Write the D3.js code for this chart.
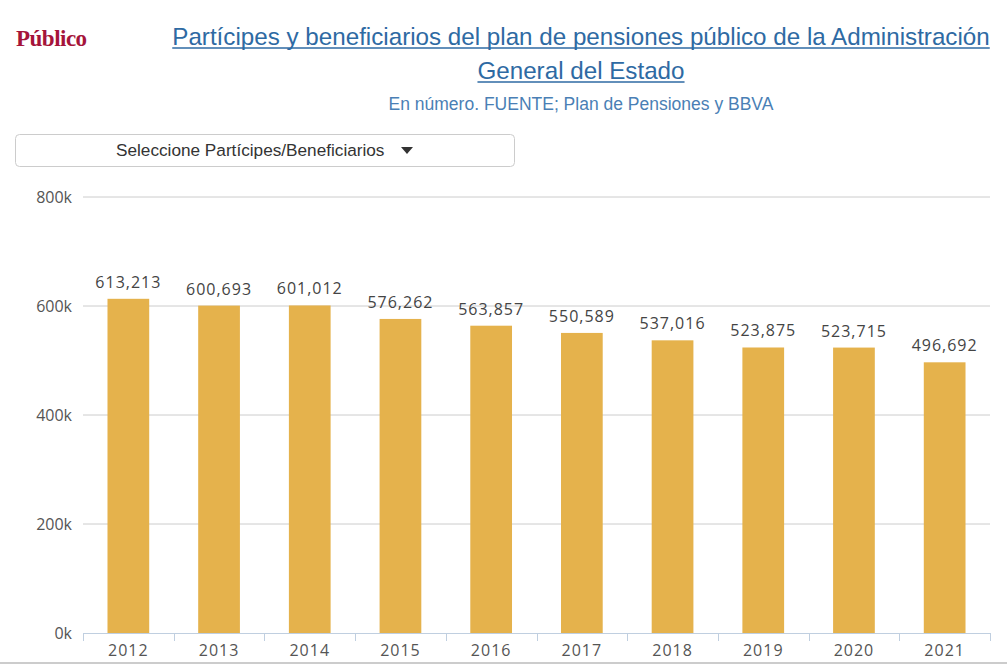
<!DOCTYPE html>
<html><head><meta charset="utf-8">
<script src="https://cdn.jsdelivr.net/npm/d3@7"></script>
<style>body{margin:0;background:#fff;}svg{display:block;}</style>
</head><body>
<svg id="c" width="1007" height="664"></svg>
<script>
const years=["2012","2013","2014","2015","2016","2017","2018","2019","2020","2021"];
const values=[613213,600693,601012,576262,563857,550589,537016,523875,523715,496692];
const yTicks=[0,200000,400000,600000,800000];

const svg=d3.select("#c");
const x=d3.scaleBand().domain(years).range([83,990]).paddingInner(0.54).paddingOuter(0.27);
const y=d3.scaleLinear().domain([0,800000]).range([633,197]);
const fmt=d3.format(",");

svg.append("text").attr("x",16).attr("y",46).attr("font-family","Liberation Serif, serif").attr("font-weight","bold").attr("font-size",23).attr("fill","#a5143a").attr("letter-spacing",-0.5).text("Público");
const tf="Liberation Sans, Arial, sans-serif";
[["Partícipes y beneficiarios del plan de pensiones público de la Administración",45],["General del Estado",79]].forEach(([t,yy])=>{
  const el=svg.append("text").attr("x",581).attr("y",yy).attr("text-anchor","middle").attr("font-family",tf).attr("font-size",24.2).attr("fill","#2e6aa3").text(t);
  const w=el.node().getComputedTextLength();
  svg.append("line").attr("x1",581-w/2).attr("x2",581+w/2).attr("y1",yy+3).attr("y2",yy+3).attr("stroke","#2e6aa3").attr("stroke-width",1.5);
});
svg.append("text").attr("x",581).attr("y",110).attr("text-anchor","middle").attr("font-family",tf).attr("font-size",17.5).attr("fill","#4a7fb5").text("En número. FUENTE; Plan de Pensiones y BBVA");

svg.append("rect").attr("x",15.5).attr("y",134.5).attr("width",499).attr("height",32).attr("rx",4).attr("fill","#fff").attr("stroke","#ccc");
svg.append("text").attr("x",116).attr("y",156).attr("text-anchor","start").attr("font-family",tf).attr("font-size",17.2).attr("fill","#333").text("Seleccione Partícipes/Beneficiarios");
svg.append("path").attr("d","M401,147 L413,147 L407,154 Z").attr("fill","#333");

const grid=svg.append("g");
yTicks.forEach(t=>{
  if(t>0) grid.append("line").attr("x1",83).attr("x2",990).attr("y1",y(t)).attr("y2",y(t)).attr("stroke","#ccc").attr("stroke-width",1);
  grid.append("text").attr("x",72).attr("y",y(t)+6).attr("text-anchor","end").attr("font-family","Open Sans, sans-serif").attr("font-size",16).attr("fill","#555").text((t/1000)+"k");
});

svg.selectAll(".bar").data(values).enter().append("rect")
  .attr("x",(d,i)=>x(years[i])).attr("width",x.bandwidth())
  .attr("y",d=>y(d)).attr("height",d=>633-y(d)).attr("fill","#e5b24c");
svg.selectAll(".lbl").data(values).enter().append("text")
  .attr("x",(d,i)=>x(years[i])+x.bandwidth()/2).attr("y",d=>y(d)-11)
  .attr("text-anchor","middle").attr("font-family","Open Sans, sans-serif").attr("font-size",16).attr("fill","#444").attr("letter-spacing",1).text(d=>fmt(d));

const ax=svg.append("g");
ax.append("line").attr("x1",83).attr("x2",990).attr("y1",633.5).attr("y2",633.5).attr("stroke","#c0cfe0");
for(let i=0;i<=years.length;i++){
  const xx=Math.round(83+i*(907/10))+0.5;
  ax.append("line").attr("x1",xx).attr("x2",xx).attr("y1",633).attr("y2",641).attr("stroke","#c0cfe0");
}
years.forEach(yv=>{
  ax.append("text").attr("x",x(yv)+x.bandwidth()/2).attr("y",656).attr("text-anchor","middle").attr("font-family","Open Sans, sans-serif").attr("font-size",16).attr("fill","#555").attr("letter-spacing",1).text(yv);
});
svg.append("line").attr("x1",0).attr("x2",1007).attr("y1",663).attr("y2",663).attr("stroke","#ccc").attr("stroke-width",2);
</script>
</body></html>
